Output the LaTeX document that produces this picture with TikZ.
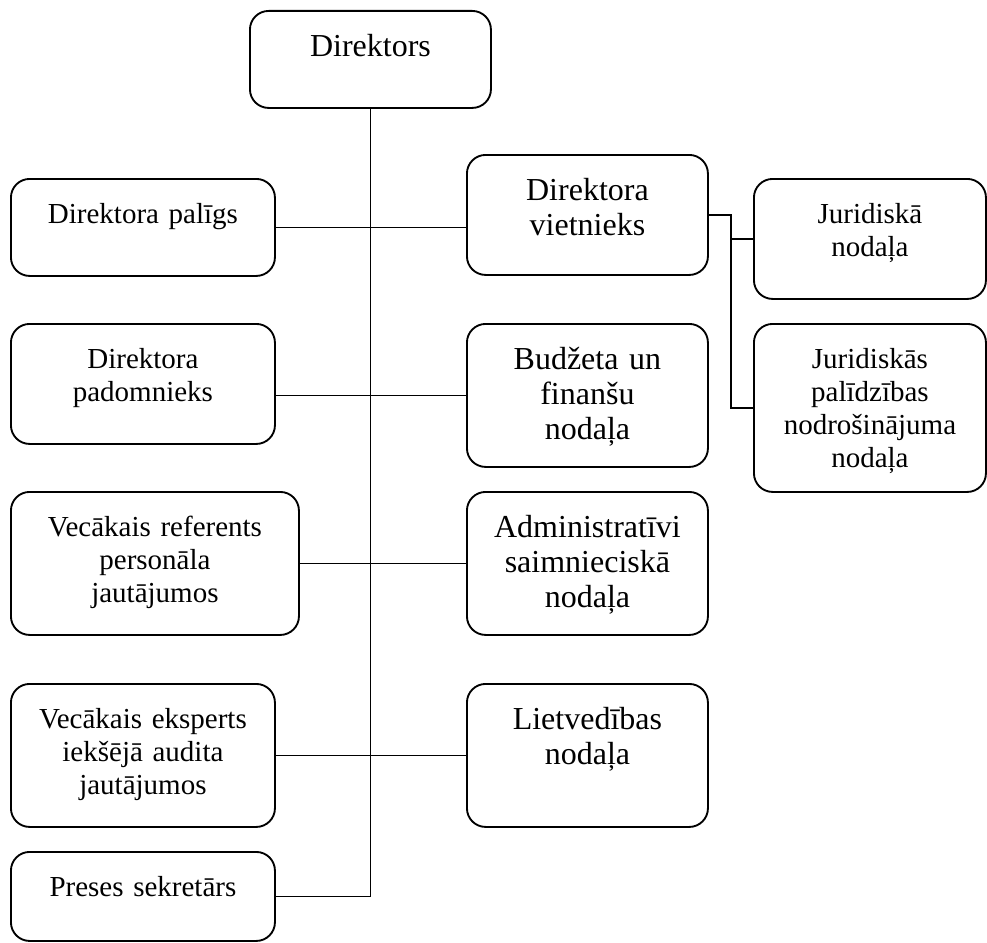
\documentclass[tikz,border=0pt]{standalone}
\usepackage{fontspec}
\setmainfont{Liberation Serif}
\usepackage{tikz}

\tikzset{
  obox/.style={draw, line width=1.4pt, rounded corners=14pt, inner sep=0pt,
    anchor=north west, align=center, text height=33.75pt,
    font=\fontsize{21.75}{24.75}\selectfont},
  lcol/.style={obox, text width=198pt},
  rcol/.style={obox, text width=180.75pt, text height=34.5pt,
    font=\fontsize{24}{26.25}\selectfont},
  jcol/.style={obox, text width=174pt},
  hshort/.style={text depth=38.25pt},
  hmid/.style={text depth=55.5pt},
  htall/.style={text depth=72.75pt},
  link/.style={line width=1.4pt}
}

\begin{document}
\begin{tikzpicture}[x=0.75pt,y=0.75pt,yscale=-1,xscale=1]
\useasboundingbox (0,0) rectangle (987,942);

% top
\node [rcol, hshort] (dir) at (249,10) {Direktors};

% left column
\node [lcol, text depth=39pt] (paligs) at (10,178) {Direktora palīgs};
\node [lcol, text depth=56.25pt] (padom) at (10,323) {Direktora\\padomnieks};
\node [obox, text width=216pt, text depth=73.5pt] (refer) at (10,491) {Vecākais referents\\personāla\\jautājumos};
\node [lcol, text depth=73.5pt] (eksp) at (10,683) {Vecākais eksperts\\iekšējā audita\\jautājumos};
\node [lcol, text depth=33pt] (preses) at (10,851) {Preses sekretārs};

% right column
\node [rcol, hmid] (vietn) at (466,154) {Direktora\\vietnieks};
\node [rcol, htall] (budz) at (466,323) {Budžeta un\\finanšu\\nodaļa};
\node [rcol, htall] (admin) at (466,491) {Administratīvi\\saimnieciskā\\nodaļa};
\node [rcol, htall] (lietv) at (466,683) {Lietvedības\\nodaļa};

% under the deputy
\node [jcol, text depth=56.25pt] (jur) at (753,178) {Juridiskā\\nodaļa};
\node [jcol, text depth=92.25pt] (jurpal) at (753,323) {Juridiskās\\palīdzības\\nodrošinājuma\\nodaļa};

% lines
\draw [link] (dir.south) |- (preses.east);
\draw [link] (paligs.east) -- (paligs.east -| vietn.west);
\draw [link] (budz.west) -- (budz.west -| padom.east);
\draw [link] (refer.east) -- (admin.west);
\draw [link] (eksp.east) -- (lietv.west);
\draw [link] (vietn.east) -- ++(22,0) coordinate (vfork) |- (jurpal.west);
\draw [link] (vfork |- jur.west) -- (jur.west);
\end{tikzpicture}
\end{document}
